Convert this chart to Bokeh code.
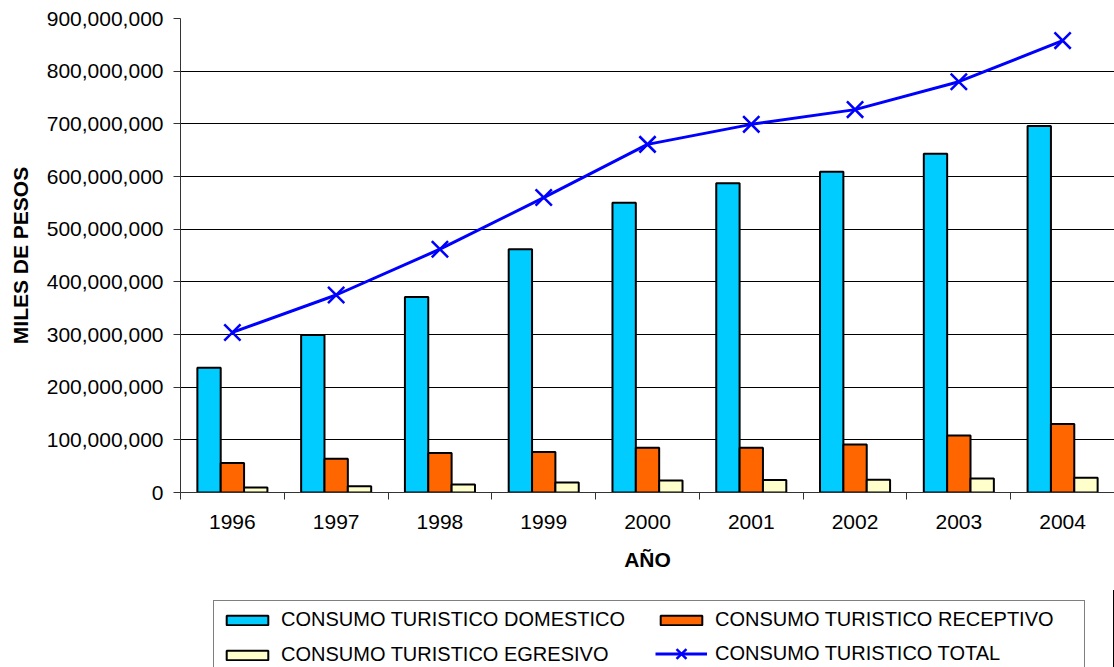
import numpy as np
from bokeh.plotting import figure
from bokeh.layouts import column
from bokeh.models import (ColumnDataSource, FixedTicker, NumeralTickFormatter,
                          Legend, LegendItem, Range1d)
from bokeh.transform import dodge
from bokeh.embed import file_html
from bokeh.resources import INLINE

years = ["1996", "1997", "1998", "1999", "2000", "2001", "2002", "2003", "2004"]
domestico = [237e6, 299e6, 371e6, 462e6, 550e6, 587e6, 609e6, 643e6, 696e6]
receptivo = [56e6, 64e6, 75e6, 77e6, 85e6, 85e6, 91e6, 108e6, 130e6]
egresivo = [9.5e6, 12e6, 15e6, 19e6, 23e6, 23.5e6, 24e6, 26.5e6, 28e6]
total = [304e6, 375e6, 462e6, 560e6, 661e6, 699e6, 727e6, 780e6, 858e6]
y_ticks = [0, 100e6, 200e6, 300e6, 400e6, 500e6, 600e6, 700e6, 800e6, 900e6]
series_names = ["CONSUMO TURISTICO DOMESTICO", "CONSUMO TURISTICO RECEPTIVO",
                "CONSUMO TURISTICO EGRESIVO", "CONSUMO TURISTICO TOTAL"]

FONT = "Liberation Sans"
BW = 0.225
COL_DOM, COL_REC, COL_EGR, COL_TOT = "#00CCFF", "#FF6600", "#FFFFCC", "#0000FF"

xc = np.arange(len(years)) + 0.5
src = ColumnDataSource(dict(x=xc, dom=domestico, rec=receptivo, egr=egresivo, tot=total))


def draw_series(fig):
    rd = fig.vbar(x=dodge("x", -BW, range=fig.x_range), top="dom", width=BW, source=src,
                  fill_color=COL_DOM, line_color="black", line_width=2)
    rr = fig.vbar(x=dodge("x", 0, range=fig.x_range), top="rec", width=BW, source=src,
                  fill_color=COL_REC, line_color="black", line_width=2)
    re = fig.vbar(x=dodge("x", BW, range=fig.x_range), top="egr", width=BW, source=src,
                  fill_color=COL_EGR, line_color="black", line_width=2)
    rl = fig.line("x", "tot", source=src, line_color=COL_TOT, line_width=3)
    rm = fig.scatter("x", "tot", source=src, marker="x", size=23,
                     line_color=COL_TOT, line_width=2.5)
    return rd, rr, re, rl, rm


p = figure(width=1114, height=590, output_backend="svg", toolbar_location=None,
           x_range=Range1d(0, len(years)), y_range=Range1d(0, 900e6),
           min_border_left=180, min_border_right=0, min_border_top=18,
           min_border_bottom=98)
p.outline_line_color = None
p.background_fill_color = "white"
p.border_fill_color = "white"
draw_series(p)

# x axis: labels at category centres, tick marks at category boundaries
xt = FixedTicker(ticks=list(xc), minor_ticks=list(np.arange(len(years) + 1)))
p.xaxis.ticker = xt
p.xaxis.major_label_overrides = {float(v): years[i] for i, v in enumerate(xc)}
p.xaxis.major_tick_out = 0
p.xaxis.major_tick_in = 0
p.xaxis.minor_tick_out = 7
p.xaxis.minor_tick_in = 0
p.xaxis.minor_tick_line_color = "#333333"
p.xaxis.axis_line_color = "#333333"
p.xaxis.major_label_text_font = FONT
p.xaxis.major_label_text_font_size = "21px"
p.xaxis.major_label_text_color = "black"
p.xaxis.major_label_standoff = 15
p.xaxis.axis_label = "AÑO"
p.xaxis.axis_label_text_font = FONT
p.xaxis.axis_label_text_font_size = "21px"
p.xaxis.axis_label_text_font_style = "bold"
p.xaxis.axis_label_text_color = "black"
p.xaxis.axis_label_standoff = 16

p.yaxis.ticker = FixedTicker(ticks=y_ticks)
p.yaxis.formatter = NumeralTickFormatter(format="0,0")
p.yaxis.major_tick_out = 7
p.yaxis.major_tick_in = 0
p.yaxis.minor_tick_line_color = None
p.yaxis.major_tick_line_color = "#333333"
p.yaxis.axis_line_color = "#333333"
p.yaxis.major_label_text_font = FONT
p.yaxis.major_label_text_font_size = "21px"
p.yaxis.major_label_text_color = "black"
p.yaxis.major_label_standoff = 10
p.yaxis.axis_label = "MILES DE PESOS"
p.yaxis.axis_label_text_font = FONT
p.yaxis.axis_label_text_font_size = "21px"
p.yaxis.axis_label_text_font_style = "bold"
p.yaxis.axis_label_text_color = "black"
p.yaxis.axis_label_standoff = 12

p.xgrid.grid_line_color = None
p.ygrid.ticker = FixedTicker(ticks=y_ticks[1:-1])
p.ygrid.grid_line_color = "black"
p.ygrid.grid_line_width = 1

# legend strip below the chart: same series drawn outside its view, so only
# the legends (which take their swatches from these renderers) are visible
p2 = figure(width=1114, height=77, output_backend="svg", toolbar_location=None,
            x_range=Range1d(-3, -2), y_range=Range1d(0, 1),
            x_axis_type=None, y_axis_type=None,
            min_border_left=0, min_border_right=0, min_border_top=0, min_border_bottom=0)
p2.outline_line_color = None
p2.grid.grid_line_color = None
l_dom, l_rec, l_egr, l_line, l_mark = draw_series(p2)


def style_legend(lg):
    lg.label_text_font = FONT
    lg.label_text_font_size = "20px"
    lg.label_text_color = "black"
    lg.label_height = 20
    lg.label_standoff = 8
    lg.glyph_width = 52
    lg.margin = 0


legend = Legend(items=[
    LegendItem(label=series_names[0], renderers=[l_dom]),
    LegendItem(label=series_names[1], renderers=[l_rec]),
    LegendItem(label=series_names[2], renderers=[l_egr]),
], orientation="horizontal", ncols=2, location=(33, -7))
style_legend(legend)
legend.label_width = 362
legend.glyph_height = 12
legend.spacing = 12
legend.padding = 7
legend.border_line_color = "black"
legend.border_line_width = 1
legend.background_fill_color = "white"
legend.background_fill_alpha = 1
p2.add_layout(legend, "center")

legend2 = Legend(items=[
    LegendItem(label=series_names[3], renderers=[l_line, l_mark]),
], location=(475, -4))
style_legend(legend2)
legend2.glyph_height = 35
legend2.padding = 0
legend2.spacing = 0
legend2.border_line_color = None
legend2.background_fill_alpha = 0
p2.add_layout(legend2, "center")

layout = column(p, p2, spacing=0)
open("out.html", "w").write(file_html(layout, INLINE))
